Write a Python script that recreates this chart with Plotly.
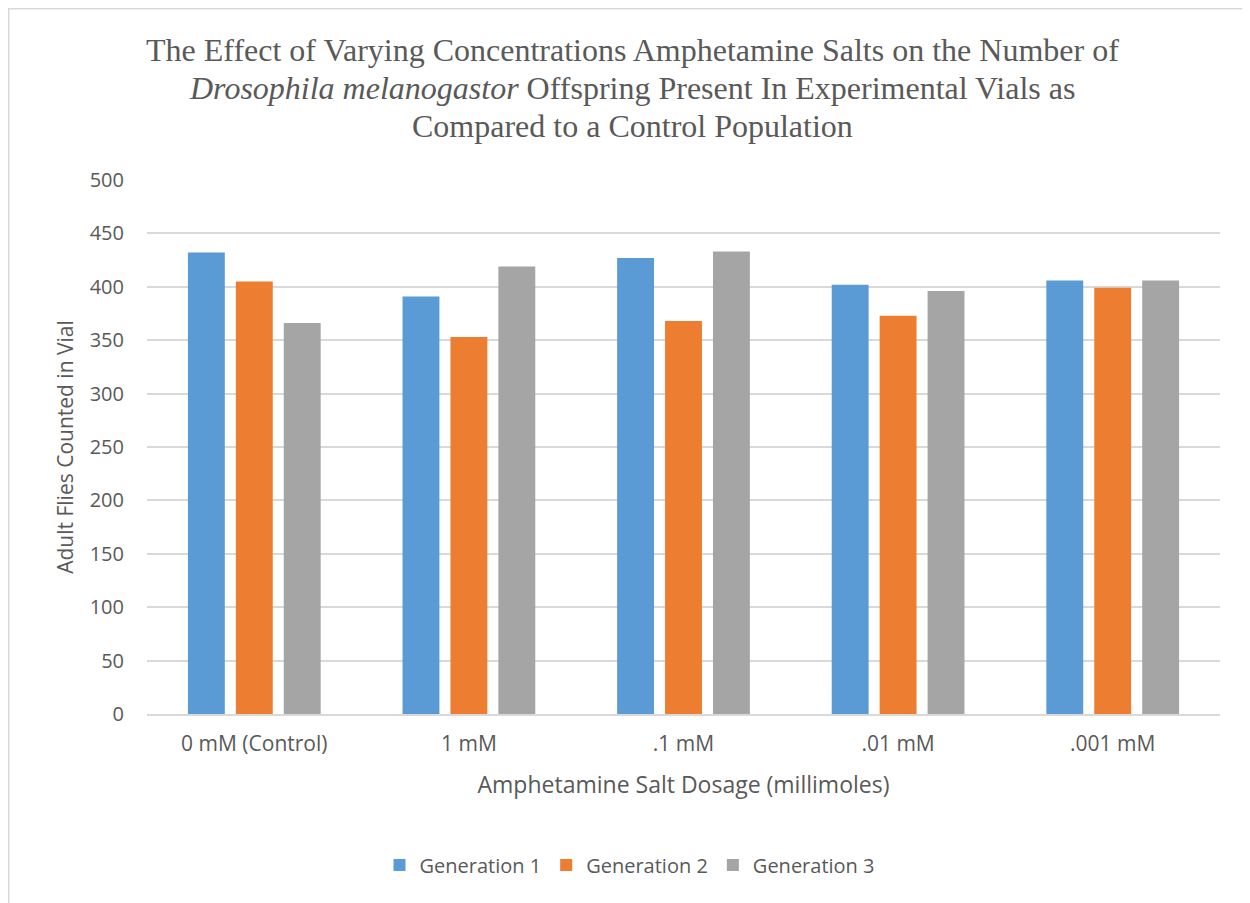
import plotly.graph_objects as go

categories = ["0 mM (Control)", "1 mM", ".1 mM", ".01 mM", ".001 mM"]
gen1 = [432, 391, 427, 402, 406]
gen2 = [405, 353, 368, 373, 399]
gen3 = [366, 419, 433, 396, 406]
series_names = ["Generation 1", "Generation 2", "Generation 3"]
colors = ["#5B9BD5", "#ED7D31", "#A5A5A5"]
y_ticks = [0, 50, 100, 150, 200, 250, 300, 350, 400, 450, 500]
title_lines = [
    "The Effect of Varying Concentrations Amphetamine Salts on the Number of",
    "<i>Drosophila melanogastor</i> Offspring Present In Experimental Vials as",
    "Compared to a Control Population",
]

# page has an 8px body margin, so the figure is drawn 8px smaller
W, H = 1242, 895
L, R, T, B = 139, 30, 172, 189
PW, PH = W - L - R, H - T - B

def px_x(x):
    return (x - L) / PW

def px_y(y):
    return (H - B - y) / PH

fig = go.Figure()
for name, vals, c in zip(series_names, [gen1, gen2, gen3], colors):
    fig.add_trace(go.Bar(x=categories, y=vals, name=name, marker=dict(color=c, line=dict(width=0))))

TEXT = "#595959"
SANS = "Open Sans, Liberation Sans, sans-serif"
SERIF = "Liberation Serif, Times New Roman, serif"

annotations = []
for i, line in enumerate(title_lines):
    annotations.append(dict(
        text=line, xref="paper", yref="paper", x=px_x(624), y=px_y(42 + 38 * i),
        xanchor="center", yanchor="middle", showarrow=False,
        font=dict(family=SERIF, size=32, color=TEXT),
    ))

fig.update_layout(
    width=W, height=H,
    margin=dict(l=L, r=R, t=T, b=B, autoexpand=False),
    paper_bgcolor="white", plot_bgcolor="white",
    barmode="group", bargap=0.33, bargroupgap=0.23,
    font=dict(family=SANS, color=TEXT, size=20),
    annotations=annotations,
    xaxis=dict(
        showgrid=False, showline=True, linecolor="#D9D9D9", linewidth=1.5,
        ticks="", tickfont=dict(size=21, color=TEXT), ticklabelstandoff=10,
        title=dict(text="Amphetamine Salt Dosage (millimoles)", font=dict(size=23, color=TEXT), standoff=21),
    ),
    yaxis=dict(
        range=[0, 500], tickvals=y_ticks, showgrid=True, gridcolor="#D9D9D9", gridwidth=1.5,
        zeroline=False, showline=False, ticks="", ticklabelstandoff=22,
        tickfont=dict(size=20, color=TEXT),
        title=dict(text="Adult Flies Counted in Vial", font=dict(size=21, color=TEXT), standoff=10),
    ),
    legend=dict(
        orientation="h", x=622 / W, xanchor="center", xref="container",
        y=1 - 857 / H, yanchor="middle", yref="container",
        font=dict(size=20, color=TEXT), itemwidth=30, traceorder="normal",
    ),
    shapes=[dict(
        type="rect", xref="paper", yref="paper",
        x0=px_x(0.75), x1=px_x(W + 10),
        y0=px_y(H + 10), y1=px_y(0.75),
        line=dict(color="#D9D9D9", width=1.5), fillcolor="rgba(0,0,0,0)", layer="below",
    )],
)

fig.write_html("out.html")
